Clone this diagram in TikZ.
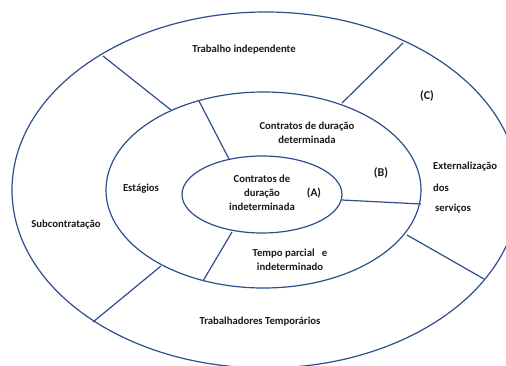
\documentclass[tikz,border=0pt]{standalone}
\usepackage{fontspec}
\setmainfont{Carlito}[BoldFont={Carlito Bold}]
\usetikzlibrary{shapes.geometric}
\definecolor{ringblue}{HTML}{2F4F8C}
\definecolor{txt}{HTML}{1A1A1A}
\begin{document}
\begin{tikzpicture}[x=1pt,y=-1pt,
  ring/.style={draw=ringblue,line width=1.2pt,ellipse,inner sep=0pt},
  divider/.style={draw=ringblue,line width=1.2pt},
  lbl/.style={text=txt,font=\fontsize{10.7}{14}\selectfont\bfseries,align=center,inner sep=0pt}]
\useasboundingbox (0,0) rectangle (506,365);
\clip (0,0) rectangle (506,365);
\fill[white] (0,0) rectangle (506,365);
% rings
\node[ring,minimum width=507pt,minimum height=356pt] (outer) at (265.5,190) {};
\node[ring,minimum width=315pt,minimum height=196pt] (mid) at (263.5,190) {};
\node[ring,minimum width=160pt,minimum height=77pt] (inner) at (262,194.5) {};
% divider end points
\coordinate (o1) at (103,56);   \coordinate (m1) at (171,110);
\coordinate (o2) at (403,43);   \coordinate (m2) at (342,103);
\coordinate (o3) at (484,279);  \coordinate (m3) at (407,235);
\coordinate (o4) at (93,322);   \coordinate (m4) at (161,266);
\coordinate (m5) at (199,101);  \coordinate (i5) at (229,159);
\coordinate (m6) at (421,204);  \coordinate (i6) at (342,200);
\coordinate (m7) at (203,281);  \coordinate (i7) at (232,232);
\draw[divider] (o1) -- (m1);
\draw[divider] (o2) -- (m2);
\draw[divider] (o3) -- (m3);
\draw[divider] (o4) -- (m4);
\draw[divider] (m5) -- (i5);
\draw[divider] (m6) -- (i6);
\draw[divider] (m7) -- (i7);
% labels
\node[lbl] (t1) at (244,50) {Trabalho independente};
\node[lbl] (tc) at (427,96) {\fontsize{12}{13}\selectfont (C)};
\node[lbl] (t2) at (307,133) {Contratos de duração\\determinada};
\node[lbl] (tb) at (381,173) {\fontsize{12}{13}\selectfont (B)};
\node[lbl,anchor=west] (e1) at (433,167) {Externalização};
\node[lbl,anchor=west] (e2) at (433,188) {dos};
\node[lbl,anchor=west] (e3) at (435,209) {serviços};
\node[lbl] (t3) at (141,189) {Estágios};
\node[lbl] (t4) at (262,193) {Contratos de\\duração\\indeterminada};
\node[lbl] (ta) at (314,193) {\fontsize{11.5}{13}\selectfont (A)};
\node[lbl] (t5) at (66,225) {Subcontratação};
\node[lbl] (t6) at (290,260) {Tempo parcial \ \ e\\indeterminado};
\node[lbl] (t7) at (260,322) {Trabalhadores Temporários};
\end{tikzpicture}
\end{document}
